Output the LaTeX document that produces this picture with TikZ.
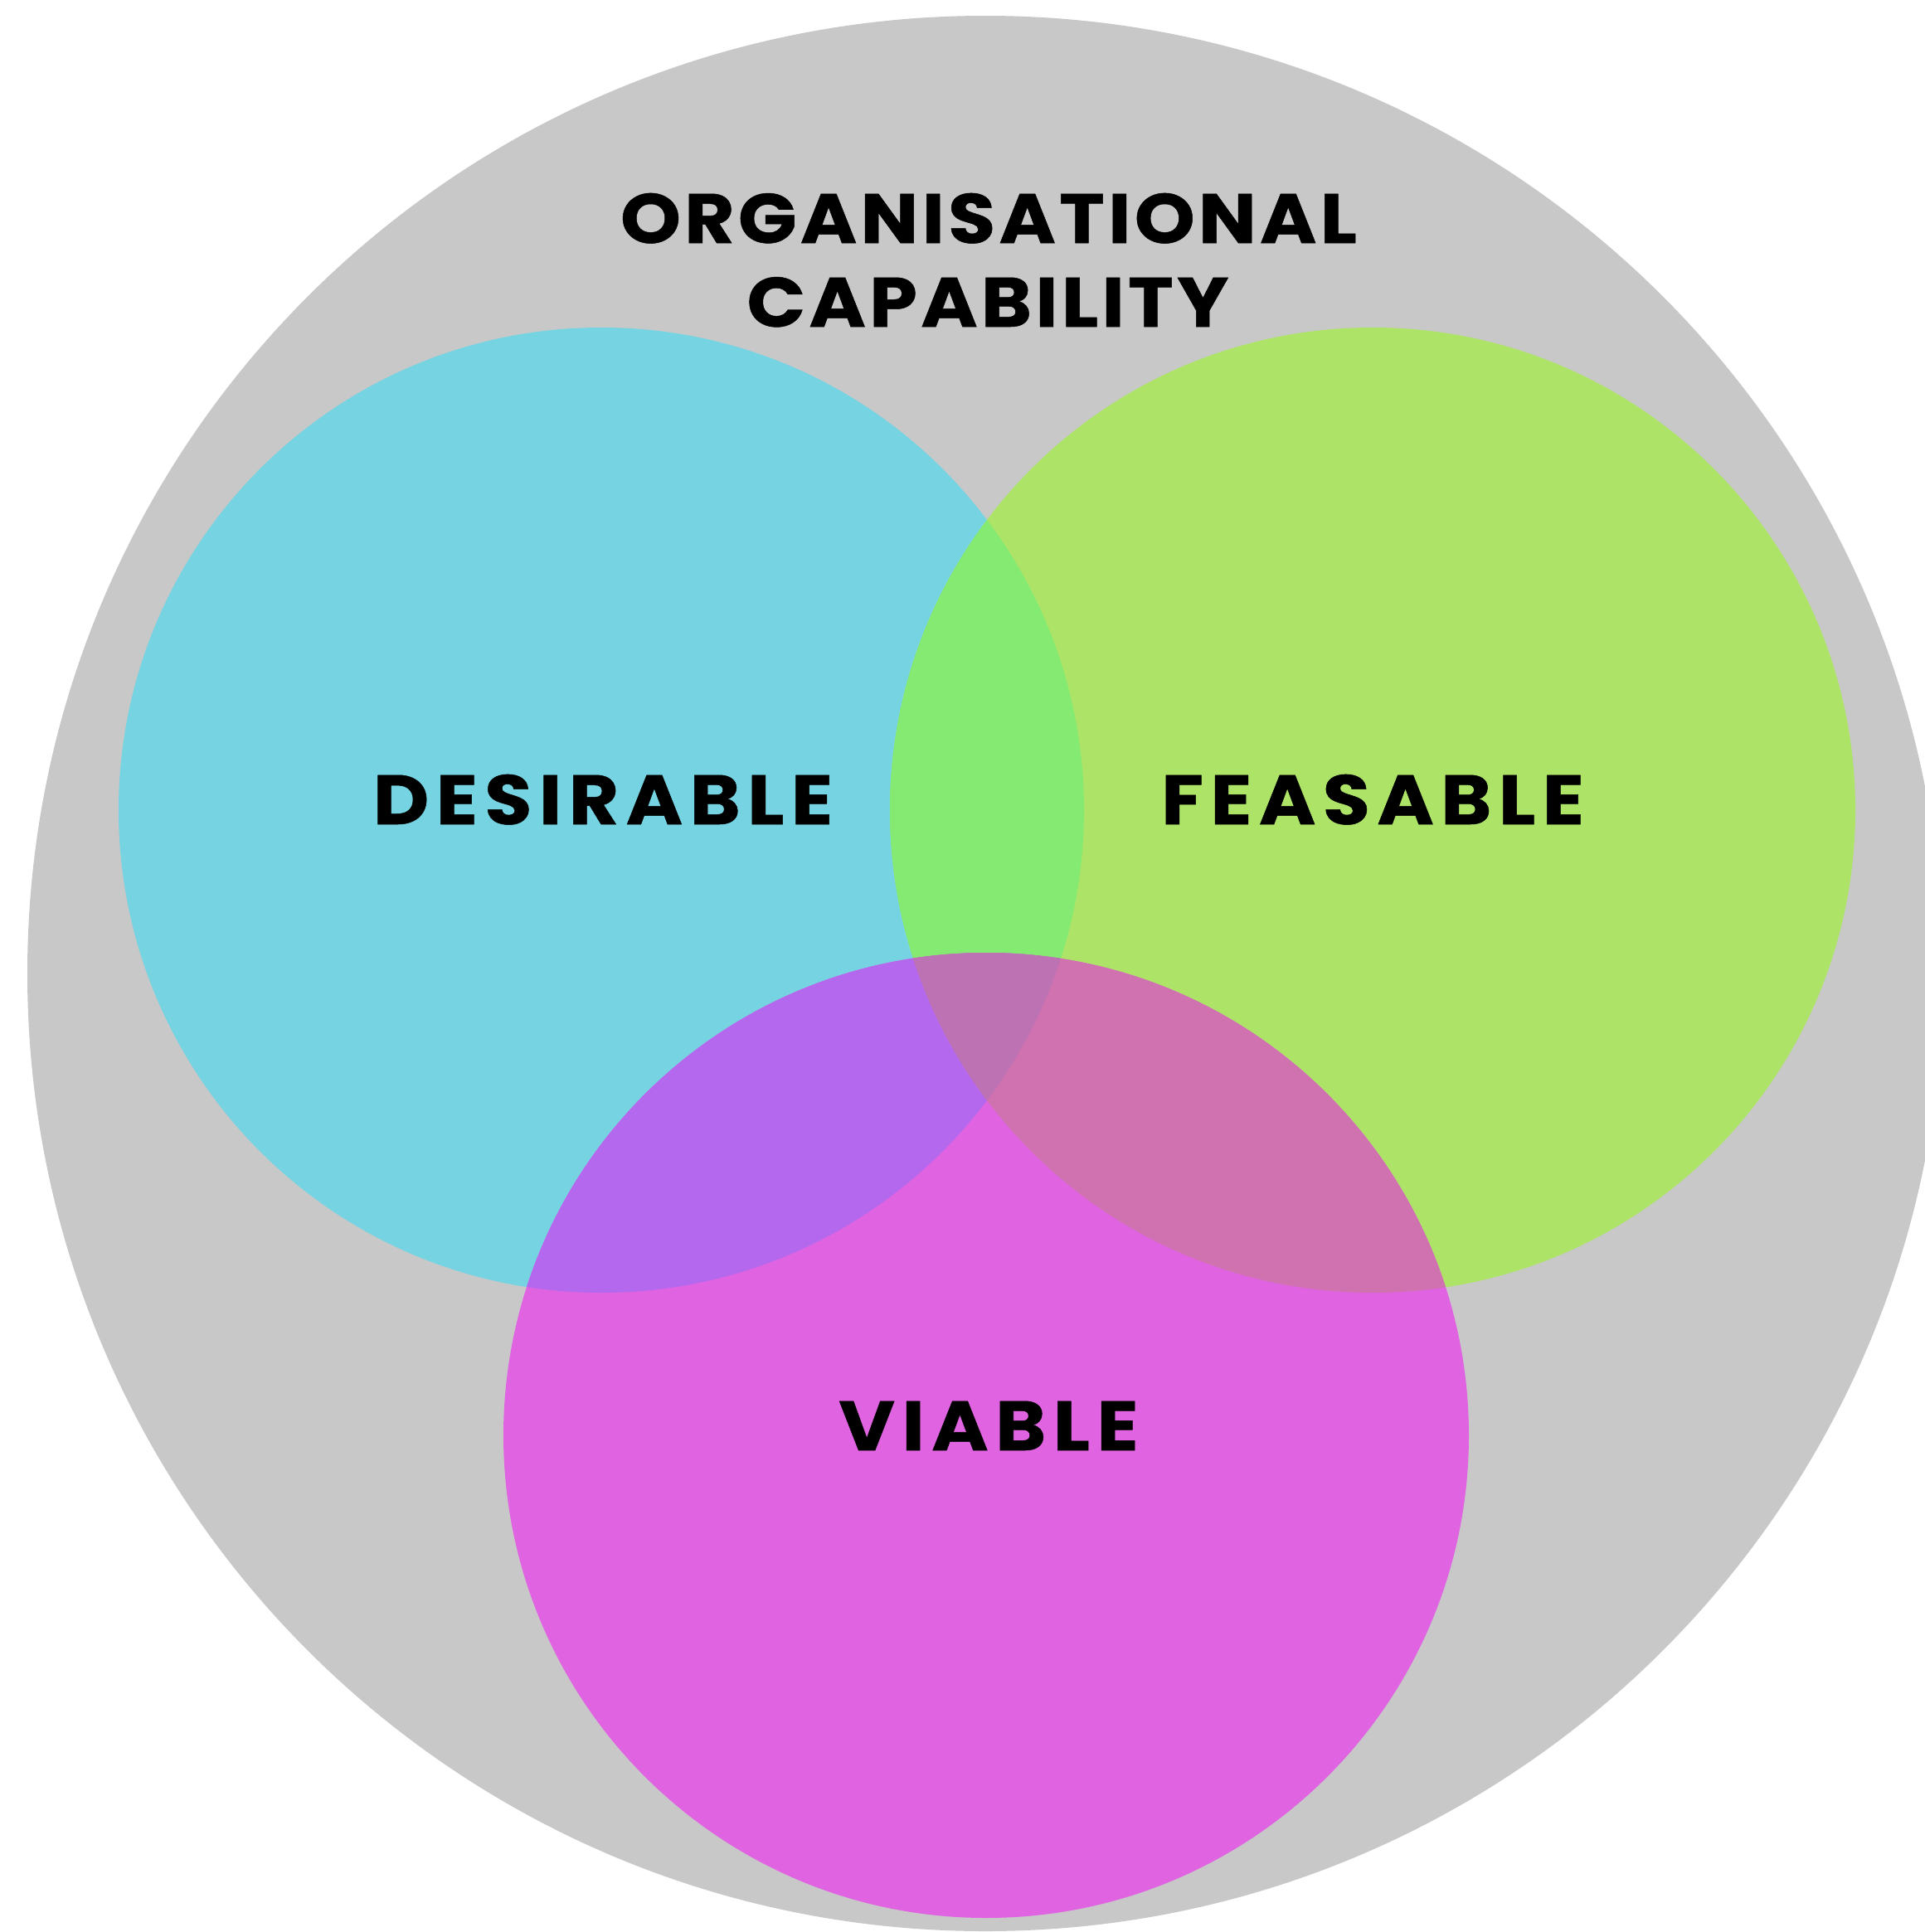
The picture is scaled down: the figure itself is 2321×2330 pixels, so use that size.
\documentclass[tikz,border=0pt]{standalone}
\usepackage{fontspec}
\newfontfamily\labfont{Poppins}[LetterSpace=10,FakeStretch=1.1,FakeBold=0.6]
\newfontfamily\titfont{Poppins}[LetterSpace=5,FakeStretch=1.1,FakeBold=0.6]
\definecolor{bggray}{HTML}{C8C8C8}
\definecolor{cdes}{HTML}{76D4E2}
\definecolor{cfea}{HTML}{ADE468}
\definecolor{cvia}{HTML}{E064E1}
\definecolor{cdf}{HTML}{84EA72}
\definecolor{cdv}{HTML}{B468EE}
\definecolor{cfv}{HTML}{D071B0}
\definecolor{cdfv}{HTML}{BD72B4}
\tikzset{
  lbl/.style={anchor=base,inner sep=0pt,font=\labfont\bfseries\fontsize{24}{28}\selectfont,text=black},
  tit/.style={anchor=base,inner sep=0pt,font=\titfont\bfseries\fontsize{24}{28}\selectfont,text=black}
}
\begin{document}
\begin{tikzpicture}[x=0.01cm,y=-0.01cm]
\useasboundingbox (0,0) rectangle (2321,2330);
\fill[white] (0,0) rectangle (2321,2330);
\begin{scope}
\clip (0,0) rectangle (2321,2330);
\fill[bggray] (1188,1174) circle (1155);
\end{scope}
\fill[cdes] (725,977) circle (582);
\fill[cfea] (1655,977) circle (582);
\fill[cvia] (1189,1731) circle (582);
\begin{scope}
\clip (725,977) circle (582);
\fill[cdf] (1655,977) circle (582);
\fill[cdv] (1189,1731) circle (582);
\end{scope}
\begin{scope}
\clip (1655,977) circle (582);
\fill[cfv] (1189,1731) circle (582);
\end{scope}
\begin{scope}
\clip (725,977) circle (582);
\clip (1655,977) circle (582);
\fill[cdfv] (1189,1731) circle (582);
\end{scope}
\node[tit] (org) at (1192,293) {ORGANISATIONAL};
\node[tit] (cap) at (1191,394) {CAPABILITY};
\node[lbl] (des) at (727,994) {DESIRABLE};
\node[lbl] (fea) at (1655,994) {FEASABLE};
\node[lbl] (via) at (1192,1749) {VIABLE};
\end{tikzpicture}
\end{document}
